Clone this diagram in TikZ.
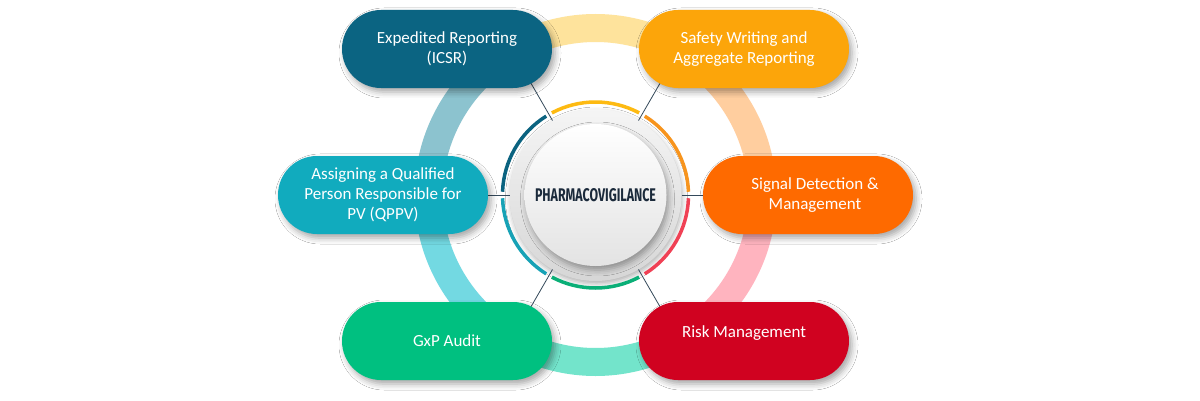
\documentclass[tikz,border=0pt]{standalone}
\usepackage{fontspec}
\setmainfont{Carlito}
\newfontfamily\headfont{Fira Sans}
\usepackage{graphicx}
\usetikzlibrary{calc,shadows.blur}
\definecolor{pillE}{HTML}{0B6482}
\definecolor{pillS}{HTML}{FCA50A}
\definecolor{pillA}{HTML}{11ABBE}
\definecolor{pillSig}{HTML}{FE6A00}
\definecolor{pillG}{HTML}{00C080}
\definecolor{pillR}{HTML}{D00220}
\definecolor{ringY}{HTML}{FEE39C}
\definecolor{ringP}{HTML}{FFCE9F}
\definecolor{ringK}{HTML}{FFB4BF}
\definecolor{ringG}{HTML}{73E4CB}
\definecolor{ringC}{HTML}{73D9E2}
\definecolor{ringB}{HTML}{8CC3CF}
\definecolor{arcO}{HTML}{F7941D}
\definecolor{arcY}{HTML}{FDBA12}
\definecolor{arcT}{HTML}{0B6380}
\definecolor{arcC}{HTML}{17A2B6}
\definecolor{arcG}{HTML}{0AAF77}
\definecolor{arcR}{HTML}{F04155}
\definecolor{linkcol}{HTML}{34495A}
\definecolor{titlecol}{HTML}{1B2A3B}
\tikzset{
  pill/.style={rectangle, rounded corners=39pt, minimum width=210pt, minimum height=78pt,
    inner sep=0pt, text=white, align=center, font=\fontsize{17}{20}\selectfont,
    blur shadow={shadow xshift=3pt, shadow yshift=-4pt, shadow blur radius=6pt, shadow opacity=35}},
  bigring/.style={line width=28pt},
  innerarc/.style={line width=3.5pt},
  link/.style={draw=linkcol, line width=0.8pt},
}
\begin{document}
\begin{tikzpicture}[x=1pt,y=1pt]
\useasboundingbox (0,0) rectangle (1200,400);
\fill[white] (0,0) rectangle (1200,400);
\coordinate (C) at (595.5,205);
% big pale ring
\draw[bigring, ringY] (C) ++(45:167) arc[start angle=45, end angle=135, radius=167];
\draw[bigring, ringB] (C) ++(135:167) arc[start angle=135, end angle=180, radius=167];
\draw[bigring, ringC] (C) ++(180:167) arc[start angle=180, end angle=225, radius=167];
\draw[bigring, ringG] (C) ++(225:167) arc[start angle=225, end angle=315, radius=167];
\draw[bigring, ringK] (C) ++(315:167) arc[start angle=315, end angle=360, radius=167];
\draw[bigring, ringP] (C) ++(0:167) arc[start angle=0, end angle=45, radius=167];
% central discs
\node[circle, minimum size=172pt, inner sep=0pt, top color=white!96!black, bottom color=white!84!black,
  blur shadow={shadow xshift=1pt, shadow yshift=-3pt, shadow blur radius=5pt, shadow opacity=30}] (disc) at (C) {};
\node[circle, minimum size=142pt, inner sep=0pt, top color=white, bottom color=white!89!black,
  blur shadow={shadow xshift=2pt, shadow yshift=-4pt, shadow blur radius=6pt, shadow opacity=35}] (core) at (C) {};
% coloured arcs
\foreach \a/\c in {0/arcO, 60/arcY, 120/arcT, 180/arcC, 240/arcG, 300/arcR}{
  \draw[innerarc, \c] (C) ++(\a+2:93) arc[start angle=\a+2, end angle=\a+58, radius=93];
}
% connector coordinates
\foreach \a in {0,60,120,180,240,300}{
  \coordinate (in\a) at ($(C)+(\a:86)$);
  \coordinate (out\a) at ($(C)+(\a:150)$);
  \draw[link] (in\a) -- (out\a);
}
\node[text=titlecol] (title) at (C) {\resizebox{121pt}{13pt}{\headfont\bfseries PHARMACOVIGILANCE}};
% pills
\node[pill, fill=pillE] (E) at (447,351) {Expedited Reporting\\(ICSR)};
\node[pill, fill=pillS] (S) at (744,351) {Safety Writing and\\Aggregate Reporting};
\node[pill, fill=pillA] (A) at (383,205) {Assigning a Qualified\\Person Responsible for\\PV (QPPV)};
\node[pill, fill=pillSig] (Sig) at (808,205) {\hspace*{14pt}Signal Detection \&\\\hspace*{14pt}Management};
\node[pill, fill=pillG] (G) at (447,59) {GxP Audit};
\node[pill, fill=pillR] (R) at (744,59) {\raisebox{4pt}[0pt][0pt]{Risk Management}};
\end{tikzpicture}
\end{document}
